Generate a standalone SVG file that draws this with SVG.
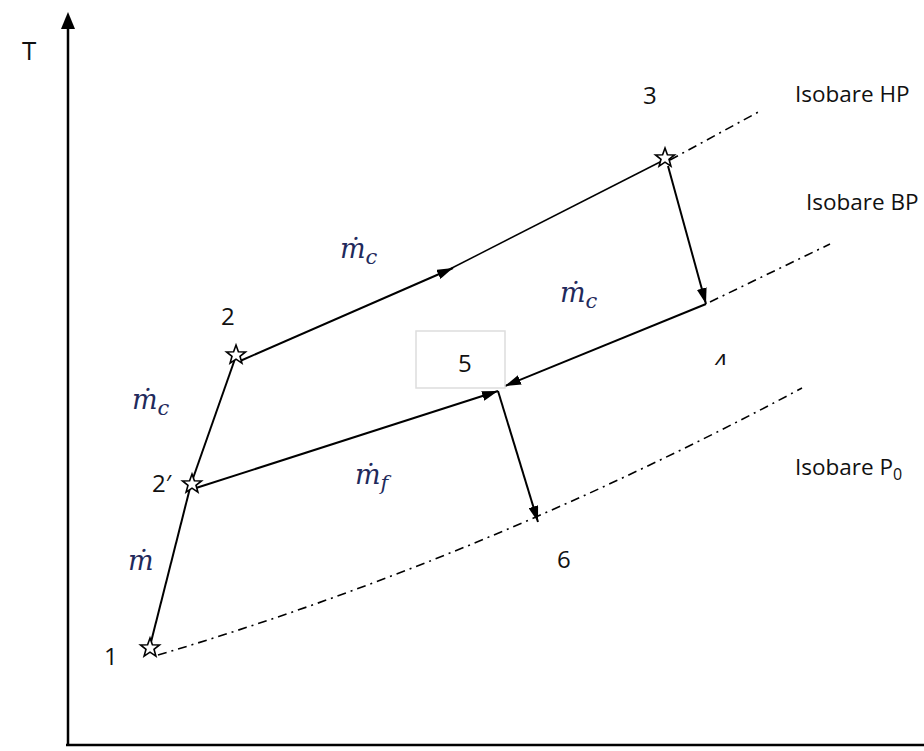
<svg xmlns="http://www.w3.org/2000/svg" width="924" height="751" viewBox="0 0 924 751">
<style>
.lbl{font-family:"Open Sans","Liberation Sans",sans-serif;font-size:24px;fill:#111}
.iso{font-family:"Open Sans","Liberation Sans",sans-serif;font-size:22.5px;fill:#111}
.mth{font-family:"DejaVu Serif","Liberation Serif",serif;font-style:italic;font-size:27px;fill:#1f2a5c}
.sub{font-size:21px}
.ln{stroke:#000;stroke-width:2;fill:none}
.thin{stroke:#000;stroke-width:1.5;fill:none}
.iso-line{stroke:#000;stroke-width:1.6;fill:none;stroke-dasharray:9 5 2 5}
.star{fill:#fff;stroke:#000;stroke-width:1.6}
</style>
<defs>
<marker id="ah" viewBox="0 0 16 10" refX="16" refY="5" markerWidth="16" markerHeight="10" markerUnits="userSpaceOnUse" orient="auto">
<path d="M0,0 L16,5 L0,10 z" fill="#000"/>
</marker>
<polygon id="st" points="0,-10 2.4,-3.3 9.5,-3.1 4,1.3 5.9,8.1 0,4.2 -5.9,8.1 -4,1.3 -9.5,-3.1 -2.4,-3.3"/>
<clipPath id="c4"><rect x="700" y="340" width="40" height="25"/></clipPath>
</defs>
<rect width="924" height="751" fill="#fff"/>
<g id="axes">
<line x1="68" y1="746" x2="68" y2="28" stroke="#000" stroke-width="2.5"/>
<path d="M68,12 L61,29 L75,29 z" fill="#000"/>
<line x1="66" y1="745" x2="924" y2="745" stroke="#000" stroke-width="2.5"/>
<text x="22" y="60" class="lbl" style="font-size:26px">T</text>
</g>
<g id="isobars">
<path class="iso-line" d="M670,160 L762,110"/>
<path class="iso-line" d="M710,302 L830,244"/>
<path class="iso-line" d="M158,655 Q480,560 802,388"/>
<text x="795" y="102" class="iso">Isobare HP</text>
<text x="806" y="210" class="iso">Isobare BP</text>
<text x="795" y="475" class="iso">Isobare P<tspan dy="5" style="font-size:16px">0</tspan></text>
</g>
<g id="connectors">
<line class="ln" x1="150" y1="646" x2="191" y2="484"/>
<line class="ln" x1="191" y1="484" x2="236" y2="356"/>
<line class="ln" x1="240" y1="361" x2="453" y2="268" marker-end="url(#ah)"/>
<line class="thin" x1="450" y1="269" x2="662" y2="161"/>
<line class="ln" x1="668" y1="166" x2="706" y2="304" marker-end="url(#ah)"/>
<line class="ln" x1="706" y1="304" x2="505" y2="386" marker-end="url(#ah)"/>
<line class="ln" x1="196" y1="488" x2="498" y2="391" marker-end="url(#ah)"/>
<line class="ln" x1="498" y1="391" x2="538" y2="522" marker-end="url(#ah)"/>
</g>
<g id="node-1">
<use href="#st" x="150" y="648" class="star"/>
<text x="104" y="665" class="lbl">1</text>
</g>
<g id="node-2p">
<use href="#st" x="192" y="484" class="star"/>
<text x="152" y="492" class="lbl">2′</text>
</g>
<g id="node-2">
<use href="#st" x="236" y="355" class="star"/>
<text x="221" y="325" class="lbl">2</text>
</g>
<g id="node-3">
<use href="#st" x="665" y="158" class="star"/>
<text x="643" y="104" class="lbl">3</text>
</g>
<g id="node-4">
<text x="714" y="371" class="lbl" clip-path="url(#c4)">4</text>
</g>
<g id="node-5">
<rect x="416" y="331" width="89" height="57" fill="none" stroke="#ddd" stroke-width="1.5"/>
<text x="458" y="372" class="lbl">5</text>
</g>
<g id="node-6">
<text x="557" y="568" class="lbl">6</text>
</g>
<g id="flow-labels">
<text x="340" y="258" class="mth">ṁ<tspan class="sub" dy="6">c</tspan></text>
<text x="560" y="302" class="mth">ṁ<tspan class="sub" dy="6">c</tspan></text>
<text x="132" y="409" class="mth">ṁ<tspan class="sub" dy="6">c</tspan></text>
<text x="355" y="484" class="mth">ṁ<tspan class="sub" dy="6">f</tspan></text>
<text x="128" y="570" class="mth">ṁ</text>
</g>
</svg>
